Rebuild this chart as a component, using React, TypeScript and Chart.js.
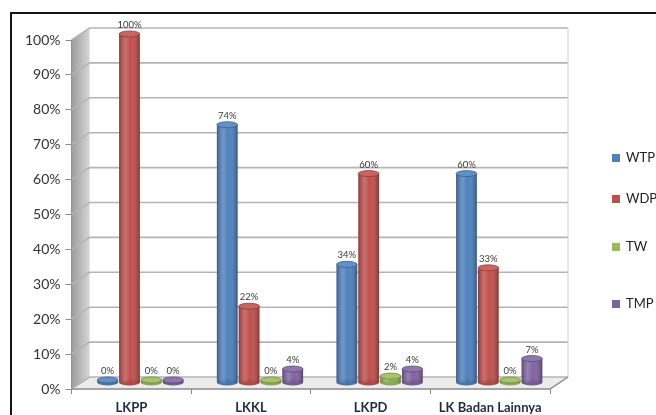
import React, { useEffect, useRef } from "react";
import { Chart, registerables } from "chart.js";

Chart.register(...registerables);

const categories = ["LKPP", "LKKL", "LKPD", "LK Badan Lainnya"];
const seriesNames = ["WTP", "WDP", "TW", "TMP"];
const wtp = [0, 74, 34, 60];
const wdp = [100, 22, 60, 33];
const tw = [0, 0, 2, 0];
const tmp = [0, 4, 4, 7];
const seriesColors = ["#4F81BD", "#C0504D", "#9BBB59", "#8064A2"];

// layout constants (not data)
const DEPTH_X = 18;
const DEPTH_Y = -12;
const BAR_SHIFT_X = 9;
const BAR_SHIFT_Y = -6;
const LEGEND_X = 600;
const LEGEND_Y = [144, 185, 233, 290];
const FONT = "Lato, 'Open Sans', sans-serif";

function shade(hex: string, amt: number) {
  const n = parseInt(hex.slice(1), 16);
  let r = (n >> 16) & 255, g = (n >> 8) & 255, b = n & 255;
  const f = (c: number) => Math.max(0, Math.min(255, Math.round(amt >= 0 ? c + (255 - c) * amt : c * (1 + amt))));
  return `rgb(${f(r)},${f(g)},${f(b)})`;
}

const scene3d = {
  id: "scene3d",
  beforeDatasetsDraw(chart: any) {
    const { ctx, chartArea, scales } = chart;
    const { left: L, right: R, top: T, bottom: B } = chartArea;
    ctx.save();
    const g = ctx.createLinearGradient(L, 0, L + DEPTH_X, 0);
    g.addColorStop(0, "#9c9c9c");
    g.addColorStop(1, "#d6d6d6");
    ctx.fillStyle = g;
    ctx.beginPath();
    ctx.moveTo(L, T);
    ctx.lineTo(L + DEPTH_X, T + DEPTH_Y);
    ctx.lineTo(L + DEPTH_X, B + DEPTH_Y);
    ctx.lineTo(L, B);
    ctx.closePath();
    ctx.fill();
    ctx.fillStyle = "#ececec";
    ctx.beginPath();
    ctx.moveTo(L, B);
    ctx.lineTo(R, B);
    ctx.lineTo(R + DEPTH_X, B + DEPTH_Y);
    ctx.lineTo(L + DEPTH_X, B + DEPTH_Y);
    ctx.closePath();
    ctx.fill();
    const ys = scales.y;
    ctx.strokeStyle = "#b4b4b4";
    ctx.lineWidth = 1.6;
    ys.ticks.forEach((t: any) => {
      const y = ys.getPixelForValue(t.value);
      ctx.beginPath();
      ctx.moveTo(L, y);
      ctx.lineTo(L + DEPTH_X, y + DEPTH_Y);
      ctx.lineTo(R + DEPTH_X, y + DEPTH_Y);
      ctx.stroke();
    });
    ctx.strokeStyle = "#d0d0d0";
    ctx.lineWidth = 1;
    ctx.beginPath();
    ctx.moveTo(R + DEPTH_X, T + DEPTH_Y);
    ctx.lineTo(R + DEPTH_X, B + DEPTH_Y);
    ctx.stroke();
    ctx.strokeStyle = "#8a8a8a";
    ctx.lineWidth = 1.5;
    ctx.beginPath();
    ctx.moveTo(L, B);
    ctx.lineTo(R, B);
    ctx.lineTo(R + DEPTH_X, B + DEPTH_Y);
    ctx.stroke();
    ctx.restore();
    ctx.save();
    ctx.translate(BAR_SHIFT_X, BAR_SHIFT_Y);
  },
  afterDatasetsDraw(chart: any) {
    const { ctx } = chart;
    chart.data.datasets.forEach((ds: any, di: number) => {
      const meta = chart.getDatasetMeta(di);
      const col = seriesColors[di];
      meta.data.forEach((el: any, i: number) => {
        const { x, y, base, width } = el.getProps(["x", "y", "base", "width"], true);
        const w = width;
        const h = base - y;
        ctx.fillStyle = shade(col, -0.1);
        ctx.beginPath();
        ctx.ellipse(x, base, w / 2, 3, 0, 0, Math.PI * 2);
        ctx.fill();
        const g = ctx.createLinearGradient(x - w / 2, 0, x + w / 2, 0);
        g.addColorStop(0, "rgba(0,0,0,0.28)");
        g.addColorStop(0.3, "rgba(255,255,255,0.18)");
        g.addColorStop(0.55, "rgba(255,255,255,0)");
        g.addColorStop(1, "rgba(0,0,0,0.32)");
        ctx.fillStyle = g;
        ctx.fillRect(x - w / 2, y, w, h);
        ctx.fillStyle = shade(col, 0.12);
        ctx.beginPath();
        ctx.ellipse(x, y, w / 2, 3, 0, 0, Math.PI * 2);
        ctx.fill();
        ctx.strokeStyle = shade(col, -0.25);
        ctx.lineWidth = 0.8;
        ctx.stroke();
        ctx.fillStyle = "#3a3a3a";
        ctx.font = `9.5px ${FONT}`;
        ctx.textAlign = "center";
        ctx.textBaseline = "middle";
        ctx.fillText(`${ds.data[i]}%`, x, y - 9);
      });
    });
    ctx.restore();
  },
  afterDraw(chart: any) {
    const { ctx } = chart;
    ctx.save();
    ctx.font = `13px ${FONT}`;
    ctx.textAlign = "left";
    ctx.textBaseline = "middle";
    seriesNames.forEach((name, i) => {
      const y = LEGEND_Y[i];
      ctx.fillStyle = seriesColors[i];
      ctx.fillRect(LEGEND_X, y - 4, 8, 8);
      ctx.fillStyle = "#222";
      ctx.fillText(name, LEGEND_X + 14, y);
    });
    ctx.restore();
  },
};

export default function App() {
  const ref = useRef<HTMLCanvasElement>(null);
  useEffect(() => {
    if (!ref.current) return;
    const allData = [wtp, wdp, tw, tmp];
    const chart = new Chart(ref.current, {
      type: "bar",
      data: {
        labels: categories,
        datasets: seriesNames.map((n, i) => ({
          label: n,
          data: allData[i],
          backgroundColor: seriesColors[i],
          borderWidth: 0,
          minBarLength: 3,
          barPercentage: 0.95,
          categoryPercentage: 0.73,
          clip: false as any,
        })),
      },
      options: {
        responsive: false,
        animation: false,
        events: [],
        layout: { padding: { left: 8, right: 106, top: 26, bottom: 0 } },
        plugins: {
          legend: { display: false },
          tooltip: { enabled: false },
        },
        scales: {
          x: {
            grid: { drawOnChartArea: false, tickLength: 5, color: "#8a8a8a", offset: true },
            border: { display: false },
            ticks: { color: "#1f2a44", font: { family: FONT, size: 13, weight: "bold", lineHeight: 1 }, padding: 7 },
          },
          y: {
            min: 0,
            max: 100,
            grid: { drawOnChartArea: false, tickLength: 6, color: "#8a8a8a" },
            border: { display: true, color: "#8a8a8a" },
            ticks: {
              stepSize: 10,
              padding: 5,
              color: "#333",
              font: { family: FONT, size: 14 },
              callback: (v: any) => `${v}%`,
            },
          },
        },
      },
      plugins: [scene3d],
    });
    return () => chart.destroy();
  }, []);
  return (
    <div
      style={{
        position: "fixed",
        left: 10,
        top: 12,
        width: 644,
        height: 401,
        overflow: "hidden",
        borderLeft: "2px solid #151515",
        borderTop: "2px solid #151515",
        background: "#fff",
      }}
    >
      <canvas ref={ref} width={644} height={407} style={{ display: "block" }} />
    </div>
  );
}
